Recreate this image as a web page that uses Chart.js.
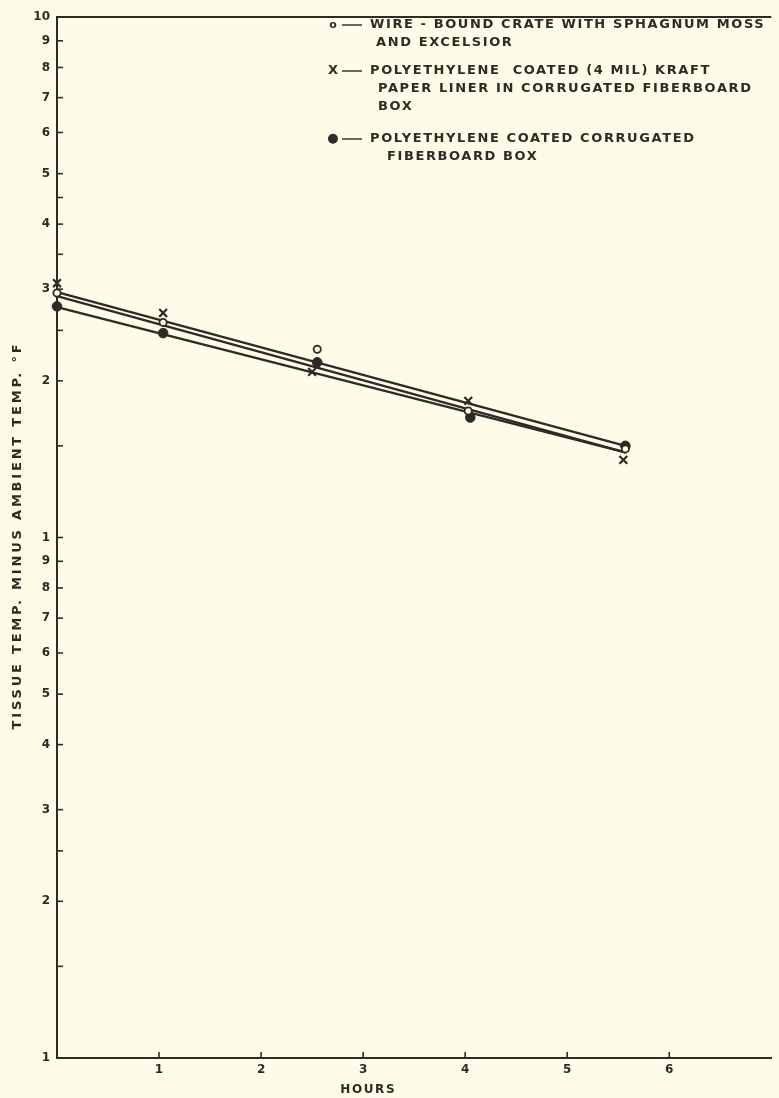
<!DOCTYPE html>
<html>
<head>
<meta charset="utf-8">
<script src="https://cdn.jsdelivr.net/npm/chart.js@4.4.1/dist/chart.umd.min.js"></script>
<style>
  html, body { margin: 0; padding: 0; background: #fcfce8; }
  canvas { display: block; }
</style>
</head>
<body>
<canvas id="c" width="779" height="1098"></canvas>
<script>
// ---------------- data ----------------
const seriesSymbols = ["o", "X", "\u25CF"];
const seriesLabels = [
  ["WIRE - BOUND CRATE WITH SPHAGNUM MOSS", "AND EXCELSIOR"],
  ["POLYETHYLENE  COATED (4 MIL) KRAFT", "PAPER LINER IN CORRUGATED FIBERBOARD", "BOX"],
  ["POLYETHYLENE COATED CORRUGATED", "FIBERBOARD BOX"]
];

// measured points (hours, tissue temp minus ambient temp)
const crateHours  = [0, 1.04, 2.55, 4.03, 5.57];
const crateValues = [2.95, 2.59, 2.30, 1.75, 1.48];
const kraftHours  = [0, 1.04, 2.50, 4.03, 5.55];
const kraftValues = [3.08, 2.70, 2.08, 1.83, 1.41];
const boxHours    = [0, 1.04, 2.55, 4.05, 5.57];
const boxValues   = [2.78, 2.47, 2.17, 1.70, 1.50];

// fitted straight lines (start / end)
const fitHours = [0, 5.57];
const crateFit = [2.96, 1.50];
const kraftFit = [2.91, 1.457];
const boxFit   = [2.77, 1.457];

// axes
const xTickValues = [1, 2, 3, 4, 5, 6];
const xTickLabels = ["1", "2", "3", "4", "5", "6"];
const yTickValues = [0.1, 0.15, 0.2, 0.25, 0.3, 0.4, 0.5, 0.6, 0.7, 0.8, 0.9,
                     1, 1.5, 2, 2.5, 3, 3.5, 4, 4.5, 5, 6, 7, 8, 9, 10];
const yTickLabels = ["1", "", "2", "", "3", "4", "5", "6", "7", "8", "9",
                     "1", "", "2", "", "3", "", "4", "", "5", "6", "7", "8", "9", "10"];
const xTitle = "HOURS";
const yTitle = "TISSUE TEMP. MINUS AMBIENT TEMP. \u00B0F";

// ---------------- style ----------------
const ink = "#2e2b26";
const paper = "#fcfce8";
const fam = "'DejaVu Sans', sans-serif";

const pts = (hs, vs) => hs.map((h, i) => ({ x: h, y: vs[i] }));
const fitDs = (vs) => ({
  data: pts(fitHours, vs), showLine: true, borderColor: ink, borderWidth: 2.3,
  pointRadius: 0, tension: 0, fill: false, order: 2
});

function spacedText(ctx, text, x, y, spacing, align) {
  ctx.save();
  if ('letterSpacing' in ctx) ctx.letterSpacing = spacing + "px";
  ctx.textAlign = align;
  ctx.fillText(text, x, y);
  ctx.restore();
}

const deco = {
  id: "deco",
  beforeDraw(chart) {
    const ctx = chart.ctx;
    ctx.save();
    ctx.fillStyle = paper;
    ctx.fillRect(0, 0, chart.width, chart.height);
    ctx.restore();
  },
  afterDraw(chart) {
    const ctx = chart.ctx;
    const a = chart.chartArea;
    const xs = chart.scales.x, ys = chart.scales.y;
    ctx.save();
    ctx.strokeStyle = ink;
    ctx.lineWidth = 2;
    // top frame
    ctx.beginPath();
    ctx.moveTo(a.left - 1, a.top);
    ctx.lineTo(a.right, a.top);
    ctx.stroke();
    // inward tick marks
    ctx.lineWidth = 1.6;
    yTickValues.forEach(v => {
      const py = ys.getPixelForValue(v);
      ctx.beginPath(); ctx.moveTo(a.left, py); ctx.lineTo(a.left + 6, py); ctx.stroke();
    });
    xTickValues.forEach(v => {
      const px = xs.getPixelForValue(v);
      ctx.beginPath(); ctx.moveTo(px, a.bottom); ctx.lineTo(px, a.bottom - 6); ctx.stroke();
    });
    ctx.fillStyle = ink;
    ctx.textBaseline = "middle";
    // x title
    ctx.font = "bold 12px " + fam;
    spacedText(ctx, xTitle, xs.getPixelForValue(3.05), a.bottom + 32, 1.6, "center");
    // y title
    ctx.save();
    ctx.translate(18, (a.top + a.bottom) / 2 - 2);
    ctx.rotate(-Math.PI / 2);
    ctx.font = "bold 13px " + fam;
    spacedText(ctx, yTitle, 0, 0, 2.8, "center");
    ctx.restore();
    // legend
    const rows = [[25, 43], [71, 89, 107], [139, 157]];
    const indent = [[370, 376], [370, 378, 378], [370, 387]];
    seriesLabels.forEach((lines, s) => {
      const y0 = rows[s][0];
      ctx.textAlign = "center";
      ctx.font = (s === 0 ? "bold 11px " : "bold 13px ") + fam;
      ctx.fillText(seriesSymbols[s], 333, y0);
      ctx.lineWidth = 1.4;
      ctx.beginPath(); ctx.moveTo(342, y0); ctx.lineTo(362, y0); ctx.stroke();
      ctx.font = "bold 13px " + fam;
      lines.forEach((t, i) => {
        spacedText(ctx, t, indent[s][i], rows[s][i], 1.6, "left");
      });
    });
    ctx.restore();
  }
};

new Chart(document.getElementById("c"), {
  type: "scatter",
  data: {
    datasets: [
      fitDs(crateFit), fitDs(kraftFit), fitDs(boxFit),
      { label: seriesLabels[0].join(" "), data: pts(crateHours, crateValues), showLine: false,
        pointStyle: "circle", pointRadius: 3.6, pointBorderWidth: 1.8,
        pointBorderColor: ink, pointBackgroundColor: paper, order: 1 },
      { label: seriesLabels[1].join(" "), data: pts(kraftHours, kraftValues), showLine: false,
        pointStyle: "crossRot", pointRadius: 5.5, pointBorderWidth: 2.2,
        pointBorderColor: ink, pointBackgroundColor: ink, order: 1 },
      { label: seriesLabels[2].join(" "), data: pts(boxHours, boxValues), showLine: false,
        pointStyle: "circle", pointRadius: 4.8, pointBorderWidth: 1,
        pointBorderColor: ink, pointBackgroundColor: ink, order: 1 }
    ]
  },
  options: {
    responsive: false,
    animation: false,
    clip: false,
    layout: { padding: { top: 17, left: 0, right: 0, bottom: 0 } },
    plugins: { legend: { display: false }, tooltip: { enabled: false } },
    scales: {
      x: {
        type: "linear", min: 0, max: 7,
        afterBuildTicks: s => { s.ticks = xTickValues.map(v => ({ value: v })); },
        afterFit: s => { s.height = 40; },
        ticks: {
          autoSkip: false, maxRotation: 0, padding: 5, color: ink,
          font: { family: fam, size: 12, weight: "bold" },
          callback: (v, i) => xTickLabels[i]
        },
        grid: { drawOnChartArea: false, drawTicks: false },
        border: { color: ink, width: 2 }
      },
      y: {
        type: "logarithmic", min: 0.1, max: 10,
        afterBuildTicks: s => { s.ticks = yTickValues.map(v => ({ value: v })); },
        afterFit: s => { s.width = 57; },
        ticks: {
          autoSkip: false, padding: 7, color: ink,
          font: { family: fam, size: 12, weight: "bold" },
          callback: (v, i) => yTickLabels[i]
        },
        grid: { drawOnChartArea: false, drawTicks: false },
        border: { color: ink, width: 2 }
      }
    }
  },
  plugins: [deco]
});
</script>
</body>
</html>
